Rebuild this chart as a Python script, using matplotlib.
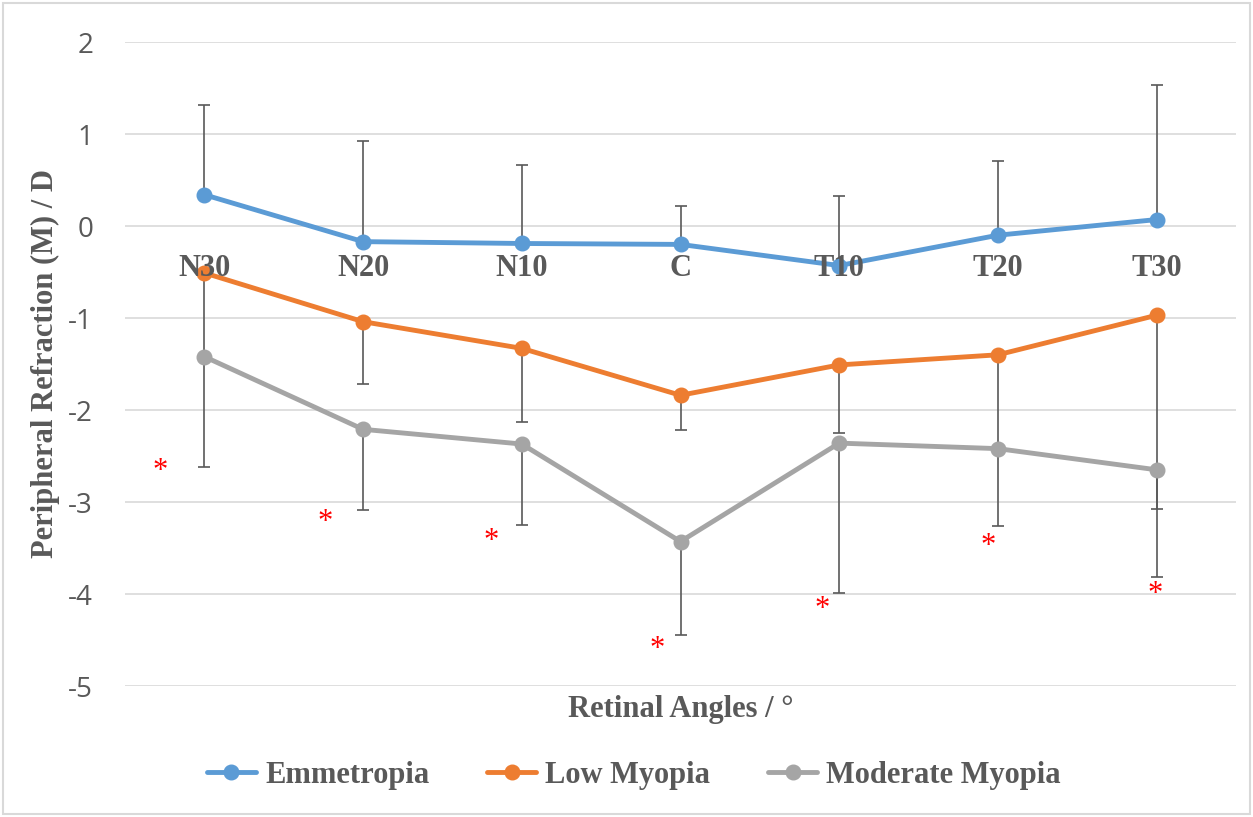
import matplotlib
matplotlib.use("Agg")
import matplotlib.pyplot as plt
import numpy as np
from matplotlib.patches import Rectangle

# Retinal eccentricities
angles = ["N30", "N20", "N10", "C", "T10", "T20", "T30"]

# Mean peripheral refraction (M) in dioptres
emmetropia = [0.34, -0.17, -0.19, -0.20, -0.43, -0.10, 0.07]
low_myopia = [-0.51, -1.04, -1.33, -1.84, -1.51, -1.40, -0.97]
moderate_myopia = [-1.42, -2.21, -2.37, -3.43, -2.36, -2.42, -2.65]

# Standard deviations (drawn one-sided)
emmetropia_sd = [0.97, 1.09, 0.85, 0.42, 0.76, 0.81, 1.46]
low_myopia_sd = [0.91, 0.68, 0.80, 0.38, 0.74, 1.02, 2.11]
moderate_myopia_sd = [1.20, 0.88, 0.88, 1.02, 1.63, 0.84, 1.16]

# Significance markers (x offset from category, y level)
star_offsets = [-0.28, -0.24, -0.19, -0.15, -0.11, -0.06, -0.01]
star_levels = [-2.62, -3.18, -3.38, -4.56, -4.12, -3.44, -3.96]

y_ticks = [2, 1, 0, -1, -2, -3, -4, -5]

SERIF = "Liberation Serif"
TEXT_GREY = "#595959"
COLORS = ["#5b9bd5", "#ed7d31", "#a5a5a5"]
NAMES = ["Emmetropia", "Low Myopia", "Moderate Myopia"]

W, H = 1253, 817
fig = plt.figure(figsize=(W / 100, H / 100), dpi=100)
ax = fig.add_axes([125 / W, 1 - 686 / H, (1236 - 125) / W, (686 - 42) / H])

x = np.arange(len(angles))
zeros = np.zeros(len(angles))

err_kw = dict(fmt="none", ecolor=TEXT_GREY, elinewidth=1.2, capsize=4.3,
              capthick=1.2, zorder=2)
ax.errorbar(x, emmetropia, yerr=[zeros, emmetropia_sd], **err_kw)
ax.errorbar(x, low_myopia, yerr=[low_myopia_sd, zeros], **err_kw)
ax.errorbar(x, moderate_myopia, yerr=[moderate_myopia_sd, zeros], **err_kw)

series = [emmetropia, low_myopia, moderate_myopia]
handles = []
for vals, col, name in zip(series, COLORS, NAMES):
    (h,) = ax.plot(x, vals, color=col, lw=3.5, marker="o", ms=10.5,
                   solid_capstyle="round", label=name, zorder=3)
    handles.append(h)

for i, (dx, yv) in enumerate(zip(star_offsets, star_levels)):
    ax.annotate("*", (i + dx, yv), xytext=(0, -3), textcoords="offset points",
                color="red", fontsize=22, family=SERIF,
                ha="center", va="center", zorder=4)

ax.set_xlim(-0.5, len(angles) - 0.5)
ax.set_ylim(-5, 2)
ax.set_yticks(y_ticks)
ax.set_yticklabels([str(t) for t in y_ticks])
ax.yaxis.grid(True, color="#d9d9d9", lw=1.2)
ax.set_axisbelow(True)

for s in ["top", "right", "left"]:
    ax.spines[s].set_visible(False)
ax.spines["bottom"].set_position(("data", 0))
ax.spines["bottom"].set_visible(False)

ax.set_xticks(x)
ax.set_xticklabels(angles, fontsize=22, family=SERIF, fontweight="bold",
                   color=TEXT_GREY)
ax.tick_params(axis="x", length=0, pad=20)
ax.xaxis.set_zorder(5)  # category labels sit on top of the series lines
ax.tick_params(axis="y", length=0, pad=23, labelsize=20, labelcolor=TEXT_GREY)
for lab in ax.get_yticklabels():
    lab.set_family("Open Sans")

ax.set_ylabel("Peripheral Refraction (M) / D", fontsize=22, family=SERIF,
              fontweight="bold", color=TEXT_GREY, labelpad=6)

fig.text(681 / W, 1 - 710 / H, "Retinal Angles / °", fontsize=22,
         family=SERIF, fontweight="bold", color=TEXT_GREY,
         ha="center", va="center")

leg = fig.legend(handles=handles, loc="center", ncol=3, frameon=False,
                 bbox_to_anchor=(634 / W, 1 - 775 / H),
                 prop=dict(family=SERIF, weight="bold", size=22),
                 handlelength=1.6, handletextpad=0.3, columnspacing=1.9)
for t in leg.get_texts():
    t.set_color(TEXT_GREY)

fig.add_artist(Rectangle((3 / W, 3 / H), (W - 6) / W, (H - 6) / H,
                         transform=fig.transFigure, fill=False,
                         edgecolor="#d9d9d9", lw=1.5))

fig.savefig("out.png", dpi=100)
